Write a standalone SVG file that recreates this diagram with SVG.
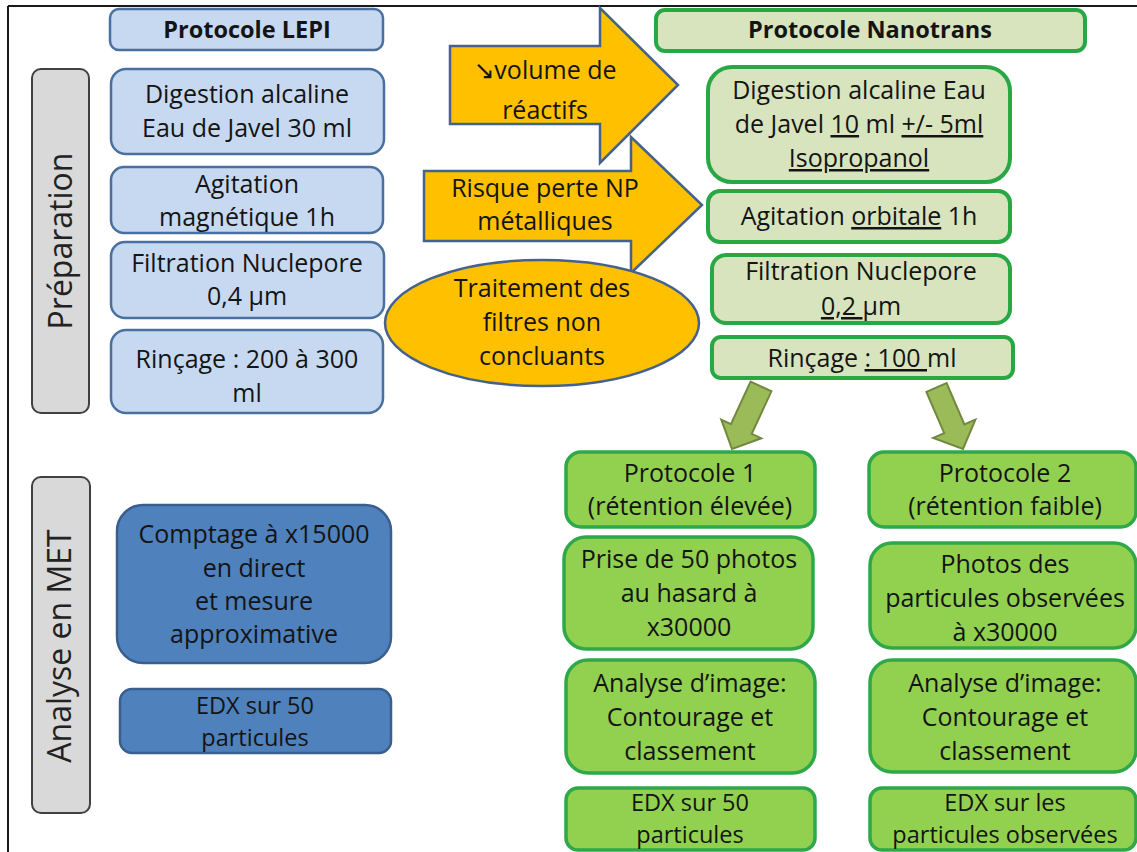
<svg xmlns="http://www.w3.org/2000/svg" width="1137" height="852" viewBox="0 0 1137 852">
<style>
.t{font-family:"Open Sans","Noto Sans","DejaVu Sans",sans-serif;font-size:25px;fill:#141414;text-anchor:middle}
.b{font-weight:bold;font-size:23.5px}
.s{font-size:23.5px}
.rot{font-size:32px;fill:#222}
.lb{fill:#c6d9f1;stroke:#4a70a0;stroke-width:2.5}
.gr{fill:#d9d9d9;stroke:#404040;stroke-width:2}
.db{fill:#4f81bd;stroke:#3a5f8d;stroke-width:2.5}
.or{fill:#ffc000;stroke:#44628c;stroke-width:2.5}
.lg{fill:#d7e4bd;stroke:#28a745;stroke-width:4}
.bg{fill:#92d050;stroke:#2fa84a;stroke-width:3.5}
.ga{fill:#9bbb59;stroke:#71893f;stroke-width:2}
.u{text-decoration:underline}
</style>
<rect width="1137" height="852" fill="#ffffff"/>
<g id="frame">
<line x1="8" y1="6" x2="1137" y2="6" stroke="#1a1a1a" stroke-width="2"/>
<line x1="8" y1="6" x2="8" y2="852" stroke="#1a1a1a" stroke-width="2"/>
</g>

<g id="preparation">
<rect class="gr" x="32" y="69" width="57" height="344" rx="9"/>
<text class="t rot" transform="translate(72,241) rotate(-90)">Préparation</text>
</g>
<g id="analyse-met">
<rect class="gr" x="32" y="477" width="58" height="336" rx="9"/>
<text class="t rot" transform="translate(71,646) rotate(-90)">Analyse en MET</text>
</g>

<g id="lepi-header">
<rect class="lb" x="110" y="9" width="273" height="41" rx="9"/>
<text class="t b" x="247" y="38">Protocole LEPI</text>
</g>
<g id="lepi-digestion">
<rect class="lb" x="111" y="69" width="273" height="85" rx="15"/>
<text class="t" x="247" y="103">Digestion alcaline</text>
<text class="t" x="247" y="137">Eau de Javel 30 ml</text>
</g>
<g id="lepi-agitation">
<rect class="lb" x="111" y="167" width="272" height="66" rx="13"/>
<text class="t" x="247" y="193">Agitation</text>
<text class="t" x="247" y="226">magnétique 1h</text>
</g>
<g id="lepi-filtration">
<rect class="lb" x="111" y="242" width="273" height="76" rx="14"/>
<text class="t" x="247" y="272">Filtration Nuclepore</text>
<text class="t" x="247" y="305">0,4 µm</text>
</g>
<g id="lepi-rincage">
<rect class="lb" x="111" y="330" width="272" height="83" rx="15"/>
<text class="t" x="247" y="368">Rinçage : 200 à 300</text>
<text class="t" x="247" y="402">ml</text>
</g>
<g id="lepi-comptage">
<rect class="db" x="117" y="505" width="274" height="158" rx="26"/>
<text class="t" x="254" y="543">Comptage à x15000</text>
<text class="t" x="254" y="577">en direct</text>
<text class="t" x="254" y="610">et mesure</text>
<text class="t" x="254" y="643">approximative</text>
</g>
<g id="lepi-edx">
<rect class="db" x="120" y="689" width="271" height="64" rx="12"/>
<text class="t s" x="255" y="714">EDX sur 50</text>
<text class="t s" x="255" y="746">particules</text>
</g>

<g id="arrow-volume">
<polygon class="or" points="450,46 600,46 600,8 678,85 600,163 600,124 450,124"/>
<text class="t" x="545" y="79">↘volume de</text>
<text class="t" x="545" y="119">réactifs</text>
</g>
<g id="arrow-risque">
<polygon class="or" points="424,171 631,171 631,137 702,205 631,273 631,241 424,241"/>
<text class="t" x="545" y="197">Risque perte NP</text>
<text class="t" x="545" y="230">métalliques</text>
</g>
<g id="traitement">
<ellipse class="or" cx="542" cy="323" rx="157" ry="63"/>
<text class="t" x="542" y="297">Traitement des</text>
<text class="t" x="542" y="331">filtres non</text>
<text class="t" x="542" y="365">concluants</text>
</g>

<g id="nano-header">
<rect class="lg" x="656" y="10" width="429" height="41" rx="9"/>
<text class="t b" x="870" y="38">Protocole Nanotrans</text>
</g>
<g id="nano-digestion">
<rect class="lg" x="708" y="67" width="302" height="115" rx="24"/>
<text class="t" x="859" y="99">Digestion alcaline Eau</text>
<text class="t" x="859" y="133">de Javel <tspan class="u">10</tspan> ml <tspan class="u">+/- 5ml</tspan></text>
<text class="t" x="859" y="167"><tspan class="u">Isopropanol</tspan></text>
</g>
<g id="nano-agitation">
<rect class="lg" x="708" y="191" width="302" height="51" rx="12"/>
<text class="t" x="859" y="225">Agitation <tspan class="u">orbitale</tspan> 1h</text>
</g>
<g id="nano-filtration">
<rect class="lg" x="712" y="255" width="298" height="68" rx="14"/>
<text class="t" x="861" y="280">Filtration Nuclepore</text>
<text class="t" x="861" y="315"><tspan class="u">0,2 </tspan>µm</text>
</g>
<g id="nano-rincage">
<rect class="lg" x="712" y="337" width="301" height="41" rx="9"/>
<text class="t" x="862" y="367">Rinçage <tspan class="u">: 100 </tspan>ml</text>
</g>

<g id="connectors">
<polygon class="ga" points="750.6,381.7 771.4,391.3 751.7,433.8 761.3,438.3 732,449 721.3,419.7 730.9,424.2"/>
<polygon class="ga" points="926.4,391.9 946.6,383.1 964.4,424.4 975.4,419.7 963,449 933.2,437.9 944.2,433.2"/>
</g>

<g id="p1-header">
<rect class="bg" x="566" y="452" width="249" height="75" rx="15"/>
<text class="t" x="690" y="482">Protocole 1</text>
<text class="t" x="690" y="515">(rétention élevée)</text>
</g>
<g id="p1-prise">
<rect class="bg" x="564" y="537" width="249" height="112" rx="22"/>
<text class="t" x="689" y="568">Prise de 50 photos</text>
<text class="t" x="689" y="602">au hasard à</text>
<text class="t" x="689" y="636">x30000</text>
</g>
<g id="p1-analyse">
<rect class="bg" x="566" y="660" width="249" height="113" rx="22"/>
<text class="t" x="690" y="692">Analyse d’image:</text>
<text class="t" x="690" y="726">Contourage et</text>
<text class="t" x="690" y="760">classement</text>
</g>
<g id="p1-edx">
<rect class="bg" x="566" y="788" width="249" height="62" rx="12"/>
<text class="t s" x="690" y="811">EDX sur 50</text>
<text class="t s" x="690" y="843">particules</text>
</g>

<g id="p2-header">
<rect class="bg" x="869" y="452" width="267" height="75" rx="15"/>
<text class="t" x="1005" y="482">Protocole 2</text>
<text class="t" x="1005" y="515">(rétention faible)</text>
</g>
<g id="p2-photos">
<rect class="bg" x="870" y="543" width="266" height="105" rx="22"/>
<text class="t" x="1005" y="573">Photos des</text>
<text class="t" x="1005" y="607">particules observées</text>
<text class="t" x="1005" y="641">à x30000</text>
</g>
<g id="p2-analyse">
<rect class="bg" x="870" y="660" width="266" height="112" rx="22"/>
<text class="t" x="1005" y="692">Analyse d’image:</text>
<text class="t" x="1005" y="726">Contourage et</text>
<text class="t" x="1005" y="760">classement</text>
</g>
<g id="p2-edx">
<rect class="bg" x="870" y="788" width="266" height="62" rx="12"/>
<text class="t s" x="1005" y="811">EDX sur les</text>
<text class="t s" x="1005" y="843">particules observées</text>
</g>
</svg>
